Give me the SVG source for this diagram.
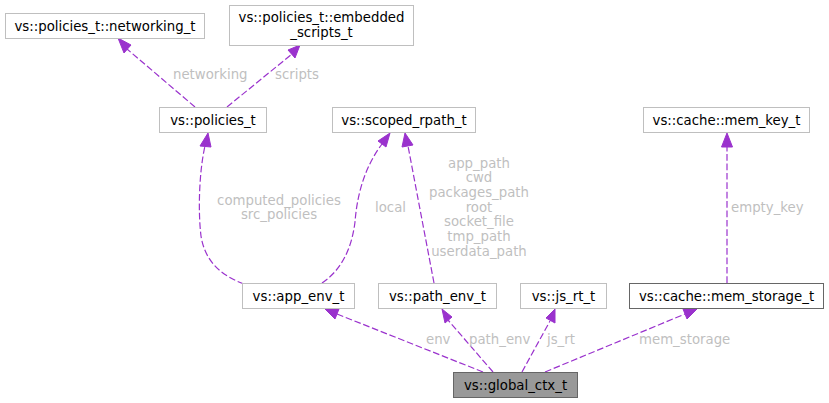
<svg xmlns="http://www.w3.org/2000/svg" width="829" height="403" viewBox="0 0 829 403">
<style>
.n rect{fill:#ffffff;stroke:#bfbfbf;stroke-width:1}
.n.dark rect{stroke:#666666}
.n.main rect{fill:#999999;stroke:#666666}
.n text{font-family:"DejaVu Sans",sans-serif;font-size:13.3px;fill:#000000;text-anchor:middle}
.e path{fill:none;stroke:#9a32cd;stroke-width:1.2;stroke-dasharray:6.7,2.7}
.e polygon{fill:#9a32cd;stroke:#9a32cd;stroke-width:1}
.l{font-family:"DejaVu Sans",sans-serif;font-size:13.3px;fill:#bfbfbf}
.lc{text-anchor:middle}
</style>
<rect width="829" height="403" fill="#ffffff"/>
<g id="connectors">
 <g class="e"><path d="M195,107 L127,49"/><polygon points="131,45 118,38 124,53"/></g>
 <g class="e"><path d="M227,107 L292,54"/><polygon points="288,50 300,45 295,58"/></g>
 <g class="e"><path d="M244,284 C222,276 205,262 201,236 C198,212 199,172 205,146"/><polygon points="200,146 208,133 211,147"/></g>
 <g class="e"><path d="M322,283 C343,269 352,246 355,222 C357,196 364,168 382,144"/><polygon points="378,141 390,133 386,147"/></g>
 <g class="e"><path d="M434,283 L408,146"/><polygon points="402,147 405,133 413,145"/></g>
 <g class="e"><path d="M727,283 L727,147"/><polygon points="721.5,147 727,133 732.5,147"/></g>
 <g class="e"><path d="M483,372 L337,314"/><polygon points="339,309 325,309 335,319"/></g>
 <g class="e"><path d="M493,372 L448,320"/><polygon points="452,317 442,309 445,323"/></g>
 <g class="e"><path d="M522,372 L550,321"/><polygon points="546,318 555,309 555,323"/></g>
 <g class="e"><path d="M545,372 L685,314"/><polygon points="683,309 697,309 687,319"/></g>
 <text class="l" x="173" y="79">networking</text>
 <text class="l" x="275" y="79">scripts</text>
 <text class="l lc" x="279" y="205">computed_policies</text>
 <text class="l lc" x="279" y="219">src_policies</text>
 <text class="l" x="375" y="212">local</text>
 <text class="l lc" x="479" y="168">app_path</text>
 <text class="l lc" x="479" y="182">cwd</text>
 <text class="l lc" x="479" y="197">packages_path</text>
 <text class="l lc" x="479" y="212">root</text>
 <text class="l lc" x="479" y="226">socket_file</text>
 <text class="l lc" x="479" y="241">tmp_path</text>
 <text class="l lc" x="479" y="256">userdata_path</text>
 <text class="l" x="731" y="212">empty_key</text>
 <text class="l" x="426" y="344">env</text>
 <text class="l" x="469" y="344">path_env</text>
 <text class="l" x="547" y="344">js_rt</text>
 <text class="l" x="639" y="344">mem_storage</text>
</g>
<g id="networking_t" class="n"><rect x="5.5" y="13.5" width="199" height="25"/><text x="105" y="30.5">vs::policies_t::networking_t</text></g>
<g id="embedded_scripts_t" class="n"><rect x="229.5" y="5.5" width="184" height="40"/><text x="321.5" y="22">vs::policies_t::embedded</text><text x="321.5" y="37">_scripts_t</text></g>
<g id="policies_t" class="n"><rect x="159.5" y="107.5" width="107" height="25"/><text x="213" y="124.5">vs::policies_t</text></g>
<g id="scoped_rpath_t" class="n"><rect x="332.5" y="107.5" width="143" height="25"/><text x="404" y="124.5">vs::scoped_rpath_t</text></g>
<g id="mem_key_t" class="n"><rect x="643.5" y="107.5" width="166" height="25"/><text x="726.5" y="124.5">vs::cache::mem_key_t</text></g>
<g id="app_env_t" class="n"><rect x="242.5" y="283.5" width="112" height="25"/><text x="298.5" y="300.5">vs::app_env_t</text></g>
<g id="path_env_t" class="n"><rect x="378.5" y="283.5" width="118" height="25"/><text x="437.5" y="300.5">vs::path_env_t</text></g>
<g id="js_rt_t" class="n"><rect x="520.5" y="283.5" width="86" height="25"/><text x="563.5" y="300.5">vs::js_rt_t</text></g>
<g id="mem_storage_t" class="n dark"><rect x="629.5" y="283.5" width="194" height="25"/><text x="726.5" y="300.5">vs::cache::mem_storage_t</text></g>
<g id="global_ctx_t" class="n main"><rect x="453.5" y="372.5" width="124" height="25"/><text x="515.5" y="389.5">vs::global_ctx_t</text></g>
</svg>
